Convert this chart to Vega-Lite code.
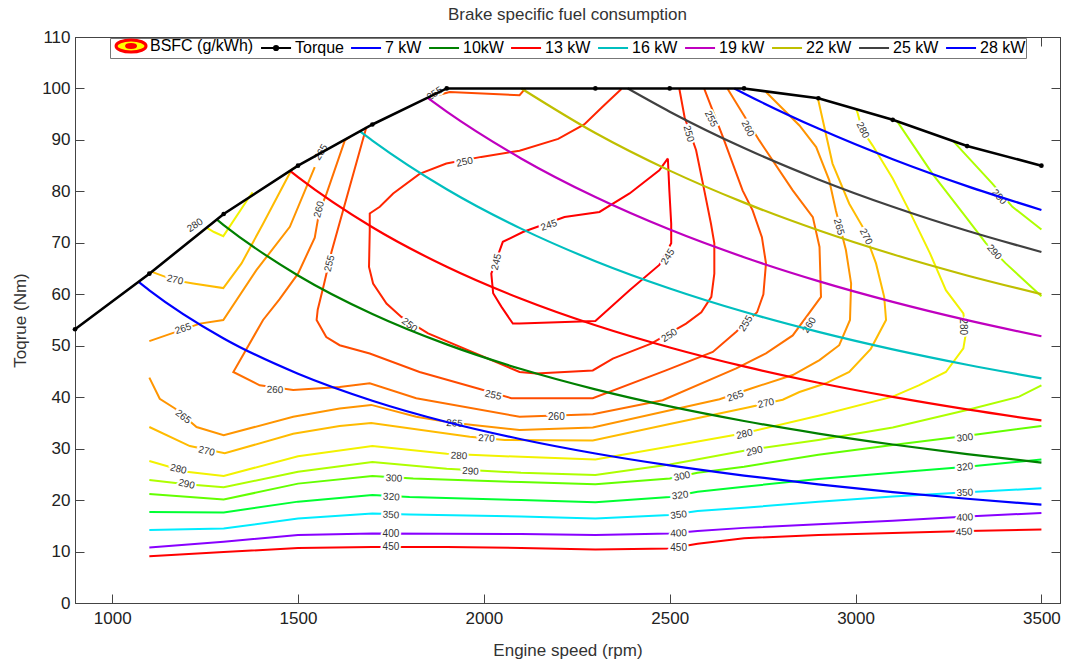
{
"$schema": "https://vega.github.io/schema/vega-lite/v6.json",
"width": 985, "height": 566,
"autosize": "none",
"padding": {"left": 75, "top": 37, "right": 8, "bottom": 61},
"background": "white",
"config": {"view": {"stroke": "#444", "strokeWidth": 1}, "font": "Liberation Sans"},
"title": {"text": "Brake specific fuel consumption", "fontSize": 17, "font": "Liberation Sans", "fontWeight": "normal", "color": "#333", "anchor": "middle", "frame": "group", "offset": 4},
"datasets": {
"torque": [
{"s":"Torque","rpm":900,"t":53.2},{"s":"Torque","rpm":1100,"t":64.0},{"s":"Torque","rpm":1300,"t":75.6},{"s":"Torque","rpm":1500,"t":85.0},{"s":"Torque","rpm":1700,"t":93.0},{"s":"Torque","rpm":1900,"t":100},{"s":"Torque","rpm":2300,"t":100},{"s":"Torque","rpm":2500,"t":100},{"s":"Torque","rpm":2700,"t":100},{"s":"Torque","rpm":2900,"t":98.1},{"s":"Torque","rpm":3100,"t":93.9},{"s":"Torque","rpm":3300,"t":88.8},{"s":"Torque","rpm":3500,"t":85.0}
],
"power": [
{"s":"7 kW","rpm":1070,"t":62.47},{"s":"7 kW","rpm":1100,"t":60.77},{"s":"7 kW","rpm":1300,"t":51.42},{"s":"7 kW","rpm":1500,"t":44.56},{"s":"7 kW","rpm":1700,"t":39.32},{"s":"7 kW","rpm":1900,"t":35.18},{"s":"7 kW","rpm":2100,"t":31.83},{"s":"7 kW","rpm":2300,"t":29.06},{"s":"7 kW","rpm":2500,"t":26.74},{"s":"7 kW","rpm":2700,"t":24.76},{"s":"7 kW","rpm":2900,"t":23.05},{"s":"7 kW","rpm":3100,"t":21.56},{"s":"7 kW","rpm":3300,"t":20.26},{"s":"7 kW","rpm":3500,"t":19.10},
{"s":"10kW","rpm":1282,"t":74.49},{"s":"10kW","rpm":1300,"t":73.46},{"s":"10kW","rpm":1500,"t":63.66},{"s":"10kW","rpm":1700,"t":56.17},{"s":"10kW","rpm":1900,"t":50.26},{"s":"10kW","rpm":2100,"t":45.47},{"s":"10kW","rpm":2300,"t":41.52},{"s":"10kW","rpm":2500,"t":38.20},{"s":"10kW","rpm":2700,"t":35.37},{"s":"10kW","rpm":2900,"t":32.93},{"s":"10kW","rpm":3100,"t":30.80},{"s":"10kW","rpm":3300,"t":28.94},{"s":"10kW","rpm":3500,"t":27.28},
{"s":"13 kW","rpm":1478,"t":84.0},{"s":"13 kW","rpm":1500,"t":82.76},{"s":"13 kW","rpm":1700,"t":73.02},{"s":"13 kW","rpm":1900,"t":65.34},{"s":"13 kW","rpm":2100,"t":59.12},{"s":"13 kW","rpm":2300,"t":53.97},{"s":"13 kW","rpm":2500,"t":49.66},{"s":"13 kW","rpm":2700,"t":45.98},{"s":"13 kW","rpm":2900,"t":42.81},{"s":"13 kW","rpm":3100,"t":40.05},{"s":"13 kW","rpm":3300,"t":37.62},{"s":"13 kW","rpm":3500,"t":35.47},
{"s":"16 kW","rpm":1666,"t":91.7},{"s":"16 kW","rpm":1700,"t":89.88},{"s":"16 kW","rpm":1900,"t":80.42},{"s":"16 kW","rpm":2100,"t":72.76},{"s":"16 kW","rpm":2300,"t":66.43},{"s":"16 kW","rpm":2500,"t":61.12},{"s":"16 kW","rpm":2700,"t":56.59},{"s":"16 kW","rpm":2900,"t":52.69},{"s":"16 kW","rpm":3100,"t":49.29},{"s":"16 kW","rpm":3300,"t":46.30},{"s":"16 kW","rpm":3500,"t":43.65},
{"s":"19 kW","rpm":1848,"t":98.2},{"s":"19 kW","rpm":1900,"t":95.49},{"s":"19 kW","rpm":2100,"t":86.40},{"s":"19 kW","rpm":2300,"t":78.89},{"s":"19 kW","rpm":2500,"t":72.57},{"s":"19 kW","rpm":2700,"t":67.20},{"s":"19 kW","rpm":2900,"t":62.56},{"s":"19 kW","rpm":3100,"t":58.53},{"s":"19 kW","rpm":3300,"t":54.98},{"s":"19 kW","rpm":3500,"t":51.84},
{"s":"22 kW","rpm":2101,"t":100},{"s":"22 kW","rpm":2300,"t":91.34},{"s":"22 kW","rpm":2500,"t":84.03},{"s":"22 kW","rpm":2700,"t":77.81},{"s":"22 kW","rpm":2900,"t":72.44},{"s":"22 kW","rpm":3100,"t":67.77},{"s":"22 kW","rpm":3300,"t":63.66},{"s":"22 kW","rpm":3500,"t":60.02},
{"s":"25 kW","rpm":2387,"t":100},{"s":"25 kW","rpm":2500,"t":95.49},{"s":"25 kW","rpm":2700,"t":88.42},{"s":"25 kW","rpm":2900,"t":82.32},{"s":"25 kW","rpm":3100,"t":77.01},{"s":"25 kW","rpm":3300,"t":72.34},{"s":"25 kW","rpm":3500,"t":68.21},
{"s":"28 kW","rpm":2674,"t":100},{"s":"28 kW","rpm":2700,"t":99.03},{"s":"28 kW","rpm":2900,"t":92.20},{"s":"28 kW","rpm":3100,"t":86.25},{"s":"28 kW","rpm":3300,"t":81.02},{"s":"28 kW","rpm":3500,"t":76.39}
],
"contours": [
{"c":"450","l":"450","rpm":1100,"t":9.1},{"c":"450","l":"450","rpm":1300,"t":9.9},{"c":"450","l":"450","rpm":1500,"t":10.7},{"c":"450","l":"450","rpm":1700,"t":10.9},{"c":"450","l":"450","rpm":1900,"t":10.9},{"c":"450","l":"450","rpm":2100,"t":10.7},{"c":"450","l":"450","rpm":2300,"t":10.4},{"c":"450","l":"450","rpm":2500,"t":10.6},{"c":"450","l":"450","rpm":2575,"t":11.5},{"c":"450","l":"450","rpm":2700,"t":12.6},{"c":"450","l":"450","rpm":2900,"t":13.2},{"c":"450","l":"450","rpm":3100,"t":13.6},{"c":"450","l":"450","rpm":3300,"t":14.0},{"c":"450","l":"450","rpm":3500,"t":14.3},
{"c":"400","l":"400","rpm":1100,"t":10.8},{"c":"400","l":"400","rpm":1300,"t":11.9},{"c":"400","l":"400","rpm":1500,"t":13.2},{"c":"400","l":"400","rpm":1700,"t":13.5},{"c":"400","l":"400","rpm":2100,"t":13.4},{"c":"400","l":"400","rpm":2300,"t":13.2},{"c":"400","l":"400","rpm":2500,"t":13.5},{"c":"400","l":"400","rpm":2575,"t":14.0},{"c":"400","l":"400","rpm":2700,"t":14.6},{"c":"400","l":"400","rpm":2900,"t":15.3},{"c":"400","l":"400","rpm":3100,"t":16.0},{"c":"400","l":"400","rpm":3300,"t":16.8},{"c":"400","l":"400","rpm":3500,"t":17.5},
{"c":"350","l":"350","rpm":1100,"t":14.2},{"c":"350","l":"350","rpm":1300,"t":14.5},{"c":"350","l":"350","rpm":1500,"t":16.4},{"c":"350","l":"350","rpm":1700,"t":17.4},{"c":"350","l":"350","rpm":1800,"t":17.2},{"c":"350","l":"350","rpm":2100,"t":16.8},{"c":"350","l":"350","rpm":2300,"t":16.4},{"c":"350","l":"350","rpm":2500,"t":17.1},{"c":"350","l":"350","rpm":2575,"t":17.9},{"c":"350","l":"350","rpm":2700,"t":18.5},{"c":"350","l":"350","rpm":2900,"t":19.7},{"c":"350","l":"350","rpm":3100,"t":20.7},{"c":"350","l":"350","rpm":3300,"t":21.5},{"c":"350","l":"350","rpm":3500,"t":22.3},
{"c":"320","l":"320","rpm":1100,"t":17.7},{"c":"320","l":"320","rpm":1300,"t":17.6},{"c":"320","l":"320","rpm":1500,"t":19.7},{"c":"320","l":"320","rpm":1700,"t":21.0},{"c":"320","l":"320","rpm":1800,"t":20.6},{"c":"320","l":"320","rpm":2100,"t":20.0},{"c":"320","l":"320","rpm":2300,"t":19.6},{"c":"320","l":"320","rpm":2500,"t":20.6},{"c":"320","l":"320","rpm":2575,"t":21.6},{"c":"320","l":"320","rpm":2700,"t":22.6},{"c":"320","l":"320","rpm":2900,"t":24.1},{"c":"320","l":"320","rpm":3100,"t":25.3},{"c":"320","l":"320","rpm":3300,"t":26.5},{"c":"320","l":"320","rpm":3500,"t":27.9},
{"c":"300","l":"300","rpm":1100,"t":21.2},{"c":"300","l":"300","rpm":1300,"t":20.1},{"c":"300","l":"300","rpm":1500,"t":23.2},{"c":"300","l":"300","rpm":1700,"t":24.7},{"c":"300","l":"300","rpm":1810,"t":24.2},{"c":"300","l":"300","rpm":2100,"t":23.5},{"c":"300","l":"300","rpm":2300,"t":23.1},{"c":"300","l":"300","rpm":2500,"t":24.2},{"c":"300","l":"300","rpm":2575,"t":25.3},{"c":"300","l":"300","rpm":2700,"t":26.5},{"c":"300","l":"300","rpm":2900,"t":28.8},{"c":"300","l":"300","rpm":3100,"t":30.7},{"c":"300","l":"300","rpm":3300,"t":32.5},{"c":"300","l":"300","rpm":3500,"t":34.4},
{"c":"290","l":"290","rpm":1100,"t":23.9},{"c":"290","l":"290","rpm":1200,"t":23.1},{"c":"290","l":"290","rpm":1300,"t":22.5},{"c":"290","l":"290","rpm":1500,"t":25.5},{"c":"290","l":"290","rpm":1700,"t":27.4},{"c":"290","l":"290","rpm":1900,"t":26.1},{"c":"290","l":"290","rpm":2100,"t":25.3},{"c":"290","l":"290","rpm":2300,"t":24.9},{"c":"290","l":"290","rpm":2500,"t":26.9},{"c":"290","l":"290","rpm":2700,"t":29.6},{"c":"290","l":"290","rpm":2900,"t":31.7},{"c":"290","l":"290","rpm":3100,"t":34.1},{"c":"290","l":"290","rpm":3300,"t":37.5},{"c":"290","l":"290","rpm":3440,"t":40.1},{"c":"290","l":"290","rpm":3500,"t":42.3},
{"c":"290b","l":"290","rpm":3112,"t":93.6},{"c":"290b","l":"290","rpm":3207,"t":83.4},{"c":"290b","l":"290","rpm":3297,"t":75.0},{"c":"290b","l":"290","rpm":3351,"t":69.9},{"c":"290b","l":"290","rpm":3404,"t":66.0},{"c":"290b","l":"290","rpm":3500,"t":59.6},
{"c":"290c","l":"290","rpm":3262,"t":89.8},{"c":"290c","l":"290","rpm":3368,"t":81.5},{"c":"290c","l":"290","rpm":3422,"t":77.0},{"c":"290c","l":"290","rpm":3500,"t":72.6},
{"c":"280","l":"280","rpm":1100,"t":27.6},{"c":"280","l":"280","rpm":1200,"t":25.5},{"c":"280","l":"280","rpm":1300,"t":24.7},{"c":"280","l":"280","rpm":1500,"t":28.5},{"c":"280","l":"280","rpm":1700,"t":30.5},{"c":"280","l":"280","rpm":1900,"t":29.0},{"c":"280","l":"280","rpm":2100,"t":28.4},{"c":"280","l":"280","rpm":2300,"t":27.9},{"c":"280","l":"280","rpm":2500,"t":30.4},{"c":"280","l":"280","rpm":2700,"t":33.0},{"c":"280","l":"280","rpm":2900,"t":36.4},{"c":"280","l":"280","rpm":3100,"t":40.1},{"c":"280","l":"280","rpm":3170,"t":42.3},{"c":"280","l":"280","rpm":3243,"t":44.9},{"c":"280","l":"280","rpm":3290,"t":49.5},{"c":"280","l":"280","rpm":3297,"t":52.5},{"c":"280","l":"280","rpm":3290,"t":56.3},{"c":"280","l":"280","rpm":3243,"t":60.8},{"c":"280","l":"280","rpm":3200,"t":68.0},{"c":"280","l":"280","rpm":3144,"t":76.3},{"c":"280","l":"280","rpm":3100,"t":82.5},{"c":"280","l":"280","rpm":3046,"t":88.9},{"c":"280","l":"280","rpm":3018,"t":91.9},{"c":"280","l":"280","rpm":3006,"t":95.1},{"c":"280","l":"280","rpm":3002,"t":96.0},
{"c":"280b","l":"280","rpm":1255,"t":72.9},{"c":"280b","l":"280","rpm":1274,"t":72.1},{"c":"280b","l":"280","rpm":1299,"t":71.3},{"c":"280b","l":"280","rpm":1366,"t":78.6},{"c":"280b","l":"280","rpm":1378,"t":79.8},
{"c":"270","l":"270","rpm":1100,"t":34.2},{"c":"270","l":"270","rpm":1209,"t":30.5},{"c":"270","l":"270","rpm":1303,"t":29.1},{"c":"270","l":"270","rpm":1487,"t":32.9},{"c":"270","l":"270","rpm":1612,"t":34.4},{"c":"270","l":"270","rpm":1697,"t":35.0},{"c":"270","l":"270","rpm":1962,"t":32.3},{"c":"270","l":"270","rpm":2056,"t":31.7},{"c":"270","l":"270","rpm":2293,"t":31.6},{"c":"270","l":"270","rpm":2500,"t":34.8},{"c":"270","l":"270","rpm":2710,"t":38.0},{"c":"270","l":"270","rpm":2804,"t":39.5},{"c":"270","l":"270","rpm":2849,"t":41.0},{"c":"270","l":"270","rpm":2920,"t":42.7},{"c":"270","l":"270","rpm":2983,"t":44.9},{"c":"270","l":"270","rpm":3041,"t":49.4},{"c":"270","l":"270","rpm":3082,"t":55.0},{"c":"270","l":"270","rpm":3077,"t":59.5},{"c":"270","l":"270","rpm":3055,"t":66.0},{"c":"270","l":"270","rpm":3019,"t":73.1},{"c":"270","l":"270","rpm":2983,"t":77.6},{"c":"270","l":"270","rpm":2938,"t":85.4},{"c":"270","l":"270","rpm":2898,"t":98.3},
{"c":"270b","l":"270","rpm":1105,"t":64.4},{"c":"270b","l":"270","rpm":1169,"t":62.7},{"c":"270b","l":"270","rpm":1218,"t":62.1},{"c":"270b","l":"270","rpm":1299,"t":61.2},{"c":"270b","l":"270","rpm":1348,"t":66.0},{"c":"270b","l":"270","rpm":1406,"t":73.7},{"c":"270b","l":"270","rpm":1482,"t":84.1},{"c":"270b","l":"270","rpm":1492,"t":84.7},
{"c":"265","l":"265","rpm":1100,"t":43.8},{"c":"265","l":"265","rpm":1128,"t":39.7},{"c":"265","l":"265","rpm":1169,"t":37.8},{"c":"265","l":"265","rpm":1227,"t":34.2},{"c":"265","l":"265","rpm":1300,"t":32.6},{"c":"265","l":"265","rpm":1487,"t":36.2},{"c":"265","l":"265","rpm":1612,"t":37.8},{"c":"265","l":"265","rpm":1697,"t":38.5},{"c":"265","l":"265","rpm":1818,"t":36.2},{"c":"265","l":"265","rpm":1899,"t":35.2},{"c":"265","l":"265","rpm":1971,"t":34.6},{"c":"265","l":"265","rpm":2096,"t":33.6},{"c":"265","l":"265","rpm":2293,"t":34.1},{"c":"265","l":"265","rpm":2634,"t":39.6},{"c":"265","l":"265","rpm":2719,"t":41.7},{"c":"265","l":"265","rpm":2831,"t":44.3},{"c":"265","l":"265","rpm":2903,"t":47.2},{"c":"265","l":"265","rpm":2956,"t":50.1},{"c":"265","l":"265","rpm":2985,"t":55.0},{"c":"265","l":"265","rpm":2988,"t":62.1},{"c":"265","l":"265","rpm":2974,"t":68.6},{"c":"265","l":"265","rpm":2947,"t":76.3},{"c":"265","l":"265","rpm":2929,"t":82.2},{"c":"265","l":"265","rpm":2894,"t":88.6},{"c":"265","l":"265","rpm":2849,"t":92.8},{"c":"265","l":"265","rpm":2759,"t":99.3},
{"c":"265b","l":"265","rpm":1100,"t":50.9},{"c":"265b","l":"265","rpm":1236,"t":54.3},{"c":"265b","l":"265","rpm":1299,"t":55.0},{"c":"265b","l":"265","rpm":1388,"t":64.7},{"c":"265b","l":"265","rpm":1478,"t":73.1},{"c":"265b","l":"265","rpm":1545,"t":84.7},
{"c":"260","l":"260","rpm":1640,"t":90.6},{"c":"260","l":"260","rpm":1626,"t":89.9},{"c":"260","l":"260","rpm":1577,"t":79.6},{"c":"260","l":"260","rpm":1557,"t":76.0},{"c":"260","l":"260","rpm":1545,"t":71.0},{"c":"260","l":"260","rpm":1500,"t":64.0},{"c":"260","l":"260","rpm":1450,"t":59.0},{"c":"260","l":"260","rpm":1406,"t":55.0},{"c":"260","l":"260","rpm":1326,"t":44.9},{"c":"260","l":"260","rpm":1397,"t":42.3},{"c":"260","l":"260","rpm":1487,"t":41.4},{"c":"260","l":"260","rpm":1612,"t":42.0},{"c":"260","l":"260","rpm":1693,"t":42.7},{"c":"260","l":"260","rpm":1818,"t":39.8},{"c":"260","l":"260","rpm":2096,"t":36.2},{"c":"260","l":"260","rpm":2293,"t":36.7},{"c":"260","l":"260","rpm":2481,"t":39.4},{"c":"260","l":"260","rpm":2679,"t":45.6},{"c":"260","l":"260","rpm":2759,"t":48.5},{"c":"260","l":"260","rpm":2831,"t":52.0},{"c":"260","l":"260","rpm":2907,"t":59.5},{"c":"260","l":"260","rpm":2903,"t":69.2},{"c":"260","l":"260","rpm":2885,"t":75.0},{"c":"260","l":"260","rpm":2831,"t":80.2},{"c":"260","l":"260","rpm":2741,"t":89.9},{"c":"260","l":"260","rpm":2656,"t":99.9},
{"c":"255","l":"255","rpm":1684,"t":92.5},{"c":"255","l":"255","rpm":1590,"t":68.2},{"c":"255","l":"255","rpm":1570,"t":62.0},{"c":"255","l":"255","rpm":1553,"t":57.0},{"c":"255","l":"255","rpm":1550,"t":55.0},{"c":"255","l":"255","rpm":1576,"t":51.7},{"c":"255","l":"255","rpm":1612,"t":50.1},{"c":"255","l":"255","rpm":1693,"t":48.5},{"c":"255","l":"255","rpm":1827,"t":44.9},{"c":"255","l":"255","rpm":1984,"t":41.7},{"c":"255","l":"255","rpm":2074,"t":39.8},{"c":"255","l":"255","rpm":2293,"t":39.8},{"c":"255","l":"255","rpm":2490,"t":45.2},{"c":"255","l":"255","rpm":2616,"t":48.8},{"c":"255","l":"255","rpm":2679,"t":52.7},{"c":"255","l":"255","rpm":2735,"t":56.5},{"c":"255","l":"255","rpm":2752,"t":60.0},{"c":"255","l":"255","rpm":2759,"t":66.0},{"c":"255","l":"255","rpm":2748,"t":71.1},{"c":"255","l":"255","rpm":2723,"t":76.3},{"c":"255","l":"255","rpm":2696,"t":80.2},{"c":"255","l":"255","rpm":2643,"t":90.6},{"c":"255","l":"255","rpm":2593,"t":99.9},
{"c":"255b","l":"255","rpm":1845,"t":98.1},{"c":"255b","l":"255","rpm":1908,"t":99.3},{"c":"255b","l":"255","rpm":2096,"t":98.7},{"c":"255b","l":"255","rpm":2112,"t":100},
{"c":"250","l":"250","rpm":2370,"t":99.9},{"c":"250","l":"250","rpm":2320,"t":96.5},{"c":"250","l":"250","rpm":2270,"t":93.0},{"c":"250","l":"250","rpm":2200,"t":90.2},{"c":"250","l":"250","rpm":2096,"t":87.9},{"c":"250","l":"250","rpm":1993,"t":86.7},{"c":"250","l":"250","rpm":1899,"t":85.4},{"c":"250","l":"250","rpm":1827,"t":83.4},{"c":"250","l":"250","rpm":1756,"t":79.6},{"c":"250","l":"250","rpm":1720,"t":77.0},{"c":"250","l":"250","rpm":1693,"t":75.7},{"c":"250","l":"250","rpm":1693,"t":72.4},{"c":"250","l":"250","rpm":1691,"t":65.3},{"c":"250","l":"250","rpm":1702,"t":62.1},{"c":"250","l":"250","rpm":1738,"t":58.2},{"c":"250","l":"250","rpm":1778,"t":55.6},{"c":"250","l":"250","rpm":1850,"t":52.4},{"c":"250","l":"250","rpm":2096,"t":44.9},{"c":"250","l":"250","rpm":2141,"t":44.6},{"c":"250","l":"250","rpm":2293,"t":45.2},{"c":"250","l":"250","rpm":2347,"t":47.5},{"c":"250","l":"250","rpm":2450,"t":50.4},{"c":"250","l":"250","rpm":2544,"t":54.3},{"c":"250","l":"250","rpm":2585,"t":56.5},{"c":"250","l":"250","rpm":2612,"t":59.5},{"c":"250","l":"250","rpm":2620,"t":64.0},{"c":"250","l":"250","rpm":2620,"t":69.9},{"c":"250","l":"250","rpm":2611,"t":73.7},{"c":"250","l":"250","rpm":2593,"t":80.2},{"c":"250","l":"250","rpm":2571,"t":88.0},{"c":"250","l":"250","rpm":2540,"t":94.4},{"c":"250","l":"250","rpm":2526,"t":99.9},
{"c":"245","l":"245","rpm":2495,"t":86.4},{"c":"245","l":"245","rpm":2499,"t":80.2},{"c":"245","l":"245","rpm":2504,"t":73.7},{"c":"245","l":"245","rpm":2504,"t":69.9},{"c":"245","l":"245","rpm":2472,"t":65.7},{"c":"245","l":"245","rpm":2392,"t":60.8},{"c":"245","l":"245","rpm":2300,"t":54.8},{"c":"245","l":"245","rpm":2096,"t":54.3},{"c":"245","l":"245","rpm":2078,"t":54.3},{"c":"245","l":"245","rpm":2047,"t":57.6},{"c":"245","l":"245","rpm":2025,"t":60.2},{"c":"245","l":"245","rpm":2020,"t":64.0},{"c":"245","l":"245","rpm":2051,"t":70.2},{"c":"245","l":"245","rpm":2105,"t":72.1},{"c":"245","l":"245","rpm":2217,"t":75.0},{"c":"245","l":"245","rpm":2311,"t":76.0},{"c":"245","l":"245","rpm":2392,"t":79.6},{"c":"245","l":"245","rpm":2472,"t":84.1},{"c":"245","l":"245","rpm":2495,"t":86.4}
],
"gA": [{"l":"450","rpm":1750,"t":10.8},{"l":"450","rpm":2524,"t":10.7},{"l":"400","rpm":1750,"t":13.4},{"l":"260","rpm":2195,"t":36.2}],
"gB": [{"l":"350","rpm":1750,"t":17.1},{"l":"320","rpm":1751,"t":20.6},{"l":"300","rpm":1758,"t":24.2},{"l":"290","rpm":1964,"t":25.6},{"l":"280","rpm":1933,"t":28.6},{"l":"270","rpm":2007,"t":32.0},{"l":"265","rpm":1921,"t":34.9},{"l":"260","rpm":1438,"t":41.4}],
"gC": [{"l":"450","rpm":3292,"t":13.8},{"l":"400","rpm":2524,"t":13.55},{"l":"400","rpm":3294,"t":16.6},{"l":"350","rpm":3294,"t":21.4}],
"gD": [{"l":"350","rpm":2524,"t":17.1},{"l":"320","rpm":2528,"t":20.9},{"l":"320","rpm":3294,"t":26.4},{"l":"300","rpm":3294,"t":32.1}],
"gE": [{"l":"300","rpm":2533,"t":24.6},{"l":"290","rpm":2728,"t":29.5},{"l":"280","rpm":2701,"t":32.8},{"l":"270","rpm":2759,"t":38.8},{"l":"250","rpm":1948,"t":85.7}],
"gF": [{"l":"265","rpm":2677,"t":40.2},{"l":"245","rpm":2175,"t":73.4},{"l":"265","rpm":1191,"t":53.3}],
"gG": [{"l":"290","rpm":1200,"t":23.1},{"l":"280","rpm":1178,"t":26.0},{"l":"270","rpm":1254,"t":29.5},{"l":"255","rpm":2025,"t":40.4},{"l":"270","rpm":1169,"t":62.8}],
"gH": [{"l":"265","rpm":1191,"t":36.2},{"l":"250","rpm":1800,"t":54.0}],
"gI": [{"l":"255","rpm":1868,"t":99.0},{"l":"280","rpm":1223,"t":73.4},{"l":"250","rpm":2499,"t":52.0}],
"gJ": [{"l":"255","rpm":2705,"t":54.3},{"l":"260","rpm":2876,"t":54.0},{"l":"245","rpm":2495,"t":67.3},{"l":"265","rpm":1562,"t":87.6}],
"gK": [{"l":"260","rpm":1557,"t":76.5},{"l":"255","rpm":1585,"t":66.0},{"l":"245","rpm":2034,"t":66.3}],
"gL": [{"l":"260","rpm":2710,"t":92.2},{"l":"270","rpm":3028,"t":71.2},{"l":"280","rpm":3019,"t":91.9},{"l":"255","rpm":2611,"t":94.1}],
"gM": [{"l":"290","rpm":3373,"t":68.2},{"l":"290","rpm":3386,"t":78.9}],
"gN": [{"l":"250","rpm":2551,"t":91.2},{"l":"265","rpm":2955,"t":73.1}],
"gO": [{"l":"280","rpm":3288,"t":53.7}]
},
"layer": [
{
"encoding": {
 "x": {"field": "rpm", "type": "quantitative", "scale": {"domain": [900, 3550], "nice": false, "zero": false},
   "axis": {"orient": "bottom", "values": [1000,1500,2000,2500,3000,3500], "format": "d", "title": "Engine speed (rpm)", "grid": false, "tickSize": -9, "tickColor": "#444", "domainColor": "#444", "labelFontSize": 17, "labelFont": "Liberation Sans", "labelColor": "#222", "labelPadding": 16, "titleFontSize": 17, "titleFont": "Liberation Sans", "titleFontWeight": "normal", "titleColor": "#333", "titlePadding": 16}},
 "y": {"field": "t", "type": "quantitative", "scale": {"domain": [0, 110], "nice": false, "zero": true},
   "axis": {"orient": "left", "values": [0,10,20,30,40,50,60,70,80,90,100,110], "title": "Toqrue (Nm)", "grid": false, "tickSize": -9, "tickColor": "#444", "domainColor": "#444", "labelFontSize": 17, "labelFont": "Liberation Sans", "labelColor": "#222", "labelPadding": 14, "titleFontSize": 17, "titleFont": "Liberation Sans", "titleFontWeight": "normal", "titleColor": "#333", "titlePadding": 12}}
},
"layer": [
 {"data": {"name": "contours"}, "mark": {"type": "line", "strokeWidth": 2, "interpolate": "linear"},
  "encoding": {"detail": {"field": "c", "type": "nominal"}, "order": {"value": null},
   "stroke": {"field": "l", "type": "nominal", "legend": null, "scale": {"domain": ["245","250","255","260","265","270","280","290","300","320","350","400","450"], "range": ["#FF0000","#FF2500","#FF4B00","#FF7000","#FF9500","#FFBB00","#F2F200","#AEFF00","#63FF00","#00FF32","#00ECFF","#8800FF","#FF0000"]}}}},
 {"data": {"name": "gA"}, "mark": {"type": "text", "angle": 0, "fontSize": 10, "font": "Liberation Sans", "fill": "white", "stroke": "white", "strokeWidth": 4, "align": "center", "baseline": "middle"}, "encoding": {"text": {"field": "l", "type": "nominal"}}},
 {"data": {"name": "gA"}, "mark": {"type": "text", "angle": 0, "fontSize": 10, "font": "Liberation Sans", "fill": "#333", "align": "center", "baseline": "middle"}, "encoding": {"text": {"field": "l", "type": "nominal"}}},
 {"data": {"name": "gB"}, "mark": {"type": "text", "angle": 3, "fontSize": 10, "font": "Liberation Sans", "fill": "white", "stroke": "white", "strokeWidth": 4, "align": "center", "baseline": "middle"}, "encoding": {"text": {"field": "l", "type": "nominal"}}},
 {"data": {"name": "gB"}, "mark": {"type": "text", "angle": 3, "fontSize": 10, "font": "Liberation Sans", "fill": "#333", "align": "center", "baseline": "middle"}, "encoding": {"text": {"field": "l", "type": "nominal"}}},
 {"data": {"name": "gC"}, "mark": {"type": "text", "angle": -3, "fontSize": 10, "font": "Liberation Sans", "fill": "white", "stroke": "white", "strokeWidth": 4, "align": "center", "baseline": "middle"}, "encoding": {"text": {"field": "l", "type": "nominal"}}},
 {"data": {"name": "gC"}, "mark": {"type": "text", "angle": -3, "fontSize": 10, "font": "Liberation Sans", "fill": "#333", "align": "center", "baseline": "middle"}, "encoding": {"text": {"field": "l", "type": "nominal"}}},
 {"data": {"name": "gD"}, "mark": {"type": "text", "angle": -7, "fontSize": 10, "font": "Liberation Sans", "fill": "white", "stroke": "white", "strokeWidth": 4, "align": "center", "baseline": "middle"}, "encoding": {"text": {"field": "l", "type": "nominal"}}},
 {"data": {"name": "gD"}, "mark": {"type": "text", "angle": -7, "fontSize": 10, "font": "Liberation Sans", "fill": "#333", "align": "center", "baseline": "middle"}, "encoding": {"text": {"field": "l", "type": "nominal"}}},
 {"data": {"name": "gE"}, "mark": {"type": "text", "angle": -12, "fontSize": 10, "font": "Liberation Sans", "fill": "white", "stroke": "white", "strokeWidth": 4, "align": "center", "baseline": "middle"}, "encoding": {"text": {"field": "l", "type": "nominal"}}},
 {"data": {"name": "gE"}, "mark": {"type": "text", "angle": -12, "fontSize": 10, "font": "Liberation Sans", "fill": "#333", "align": "center", "baseline": "middle"}, "encoding": {"text": {"field": "l", "type": "nominal"}}},
 {"data": {"name": "gF"}, "mark": {"type": "text", "angle": -19, "fontSize": 10, "font": "Liberation Sans", "fill": "white", "stroke": "white", "strokeWidth": 4, "align": "center", "baseline": "middle"}, "encoding": {"text": {"field": "l", "type": "nominal"}}},
 {"data": {"name": "gF"}, "mark": {"type": "text", "angle": -19, "fontSize": 10, "font": "Liberation Sans", "fill": "#333", "align": "center", "baseline": "middle"}, "encoding": {"text": {"field": "l", "type": "nominal"}}},
 {"data": {"name": "gG"}, "mark": {"type": "text", "angle": 13, "fontSize": 10, "font": "Liberation Sans", "fill": "white", "stroke": "white", "strokeWidth": 4, "align": "center", "baseline": "middle"}, "encoding": {"text": {"field": "l", "type": "nominal"}}},
 {"data": {"name": "gG"}, "mark": {"type": "text", "angle": 13, "fontSize": 10, "font": "Liberation Sans", "fill": "#333", "align": "center", "baseline": "middle"}, "encoding": {"text": {"field": "l", "type": "nominal"}}},
 {"data": {"name": "gH"}, "mark": {"type": "text", "angle": 38, "fontSize": 10, "font": "Liberation Sans", "fill": "white", "stroke": "white", "strokeWidth": 4, "align": "center", "baseline": "middle"}, "encoding": {"text": {"field": "l", "type": "nominal"}}},
 {"data": {"name": "gH"}, "mark": {"type": "text", "angle": 38, "fontSize": 10, "font": "Liberation Sans", "fill": "#333", "align": "center", "baseline": "middle"}, "encoding": {"text": {"field": "l", "type": "nominal"}}},
 {"data": {"name": "gI"}, "mark": {"type": "text", "angle": -33, "fontSize": 10, "font": "Liberation Sans", "fill": "white", "stroke": "white", "strokeWidth": 4, "align": "center", "baseline": "middle"}, "encoding": {"text": {"field": "l", "type": "nominal"}}},
 {"data": {"name": "gI"}, "mark": {"type": "text", "angle": -33, "fontSize": 10, "font": "Liberation Sans", "fill": "#333", "align": "center", "baseline": "middle"}, "encoding": {"text": {"field": "l", "type": "nominal"}}},
 {"data": {"name": "gJ"}, "mark": {"type": "text", "angle": -58, "fontSize": 10, "font": "Liberation Sans", "fill": "white", "stroke": "white", "strokeWidth": 4, "align": "center", "baseline": "middle"}, "encoding": {"text": {"field": "l", "type": "nominal"}}},
 {"data": {"name": "gJ"}, "mark": {"type": "text", "angle": -58, "fontSize": 10, "font": "Liberation Sans", "fill": "#333", "align": "center", "baseline": "middle"}, "encoding": {"text": {"field": "l", "type": "nominal"}}},
 {"data": {"name": "gK"}, "mark": {"type": "text", "angle": -76, "fontSize": 10, "font": "Liberation Sans", "fill": "white", "stroke": "white", "strokeWidth": 4, "align": "center", "baseline": "middle"}, "encoding": {"text": {"field": "l", "type": "nominal"}}},
 {"data": {"name": "gK"}, "mark": {"type": "text", "angle": -76, "fontSize": 10, "font": "Liberation Sans", "fill": "#333", "align": "center", "baseline": "middle"}, "encoding": {"text": {"field": "l", "type": "nominal"}}},
 {"data": {"name": "gL"}, "mark": {"type": "text", "angle": 63, "fontSize": 10, "font": "Liberation Sans", "fill": "white", "stroke": "white", "strokeWidth": 4, "align": "center", "baseline": "middle"}, "encoding": {"text": {"field": "l", "type": "nominal"}}},
 {"data": {"name": "gL"}, "mark": {"type": "text", "angle": 63, "fontSize": 10, "font": "Liberation Sans", "fill": "#333", "align": "center", "baseline": "middle"}, "encoding": {"text": {"field": "l", "type": "nominal"}}},
 {"data": {"name": "gM"}, "mark": {"type": "text", "angle": 48, "fontSize": 10, "font": "Liberation Sans", "fill": "white", "stroke": "white", "strokeWidth": 4, "align": "center", "baseline": "middle"}, "encoding": {"text": {"field": "l", "type": "nominal"}}},
 {"data": {"name": "gM"}, "mark": {"type": "text", "angle": 48, "fontSize": 10, "font": "Liberation Sans", "fill": "#333", "align": "center", "baseline": "middle"}, "encoding": {"text": {"field": "l", "type": "nominal"}}},
 {"data": {"name": "gN"}, "mark": {"type": "text", "angle": 75, "fontSize": 10, "font": "Liberation Sans", "fill": "white", "stroke": "white", "strokeWidth": 4, "align": "center", "baseline": "middle"}, "encoding": {"text": {"field": "l", "type": "nominal"}}},
 {"data": {"name": "gN"}, "mark": {"type": "text", "angle": 75, "fontSize": 10, "font": "Liberation Sans", "fill": "#333", "align": "center", "baseline": "middle"}, "encoding": {"text": {"field": "l", "type": "nominal"}}},
 {"data": {"name": "gO"}, "mark": {"type": "text", "angle": 90, "fontSize": 10, "font": "Liberation Sans", "fill": "white", "stroke": "white", "strokeWidth": 4, "align": "center", "baseline": "middle"}, "encoding": {"text": {"field": "l", "type": "nominal"}}},
 {"data": {"name": "gO"}, "mark": {"type": "text", "angle": 90, "fontSize": 10, "font": "Liberation Sans", "fill": "#333", "align": "center", "baseline": "middle"}, "encoding": {"text": {"field": "l", "type": "nominal"}}},
 {"data": {"name": "power"}, "mark": {"type": "line", "strokeWidth": 2.2, "interpolate": "monotone"},
  "encoding": {"color": {"field": "s", "type": "nominal",
   "scale": {"domain": ["BSFC (g/kWh)","Torque","7 kW","10kW","13 kW","16 kW","19 kW","22 kW","25 kW","28 kW"], "range": ["#FF0000","#000000","#0000FF","#008000","#FF0000","#00BFBF","#BF00BF","#BFBF00","#404040","#0000FF"]},
   "legend": {"orient": "none", "legendX": 35, "legendY": 1, "direction": "horizontal", "title": null,
     "symbolType": "stroke", "symbolSize": 900, "symbolStrokeWidth": 2, "labelFont": "Liberation Sans", "labelFontSize": 16, "labelColor": "#000",
     "labelOffset": 24, "columnPadding": 1, "padding": 0, "fillColor": "white", "strokeColor": "#777",
     "encode": {"symbols": {"update": {
       "shape": {"signal": "datum.value === 'BSFC (g/kWh)' ? 'M-0.13,0A1,0.4 0 1,1 1.87,0A1,0.4 0 1,1 -0.13,0ZM0.57,0A0.3,0.1 0 1,1 1.17,0A0.3,0.1 0 1,1 0.57,0Z' : (datum.value === 'Torque' ? 'M-0.13,0L1.87,0M0.73,0A0.14,0.14 0 1,1 1.01,0A0.14,0.14 0 1,1 0.73,0Z' : 'M-0.13,0L1.87,0')"},
       "fill": {"signal": "datum.value === 'BSFC (g/kWh)' ? '#FFFF00' : (datum.value === 'Torque' ? '#000000' : 'transparent')"},
       "strokeWidth": {"signal": "datum.value === 'BSFC (g/kWh)' ? 3 : 2"}
     }}}}}}},
 {"data": {"name": "torque"}, "mark": {"type": "line", "strokeWidth": 2.6, "interpolate": "linear"},
  "encoding": {"color": {"field": "s", "type": "nominal"}}},
 {"data": {"name": "torque"}, "mark": {"type": "point", "filled": true, "size": 22, "color": "#000", "opacity": 1}}
]
},
{"data": {"name": "torque"}, "mark": {"type": "point", "opacity": 0},
 "encoding": {
  "x": {"field": "rpm", "type": "quantitative", "scale": {"domain": [900, 3550], "nice": false, "zero": false},
    "axis": {"orient": "top", "values": [1000,1500,2000,2500,3000,3500], "labels": false, "title": null, "grid": false, "tickSize": -9, "tickColor": "#444", "domainColor": "#444"}},
  "y": {"field": "t", "type": "quantitative", "scale": {"domain": [0, 110], "nice": false, "zero": true},
    "axis": {"orient": "right", "values": [0,10,20,30,40,50,60,70,80,90,100,110], "labels": false, "title": null, "grid": false, "tickSize": -9, "tickColor": "#444", "domainColor": "#444"}}
 }}
],
"resolve": {"axis": {"x": "independent", "y": "independent"}}
}
